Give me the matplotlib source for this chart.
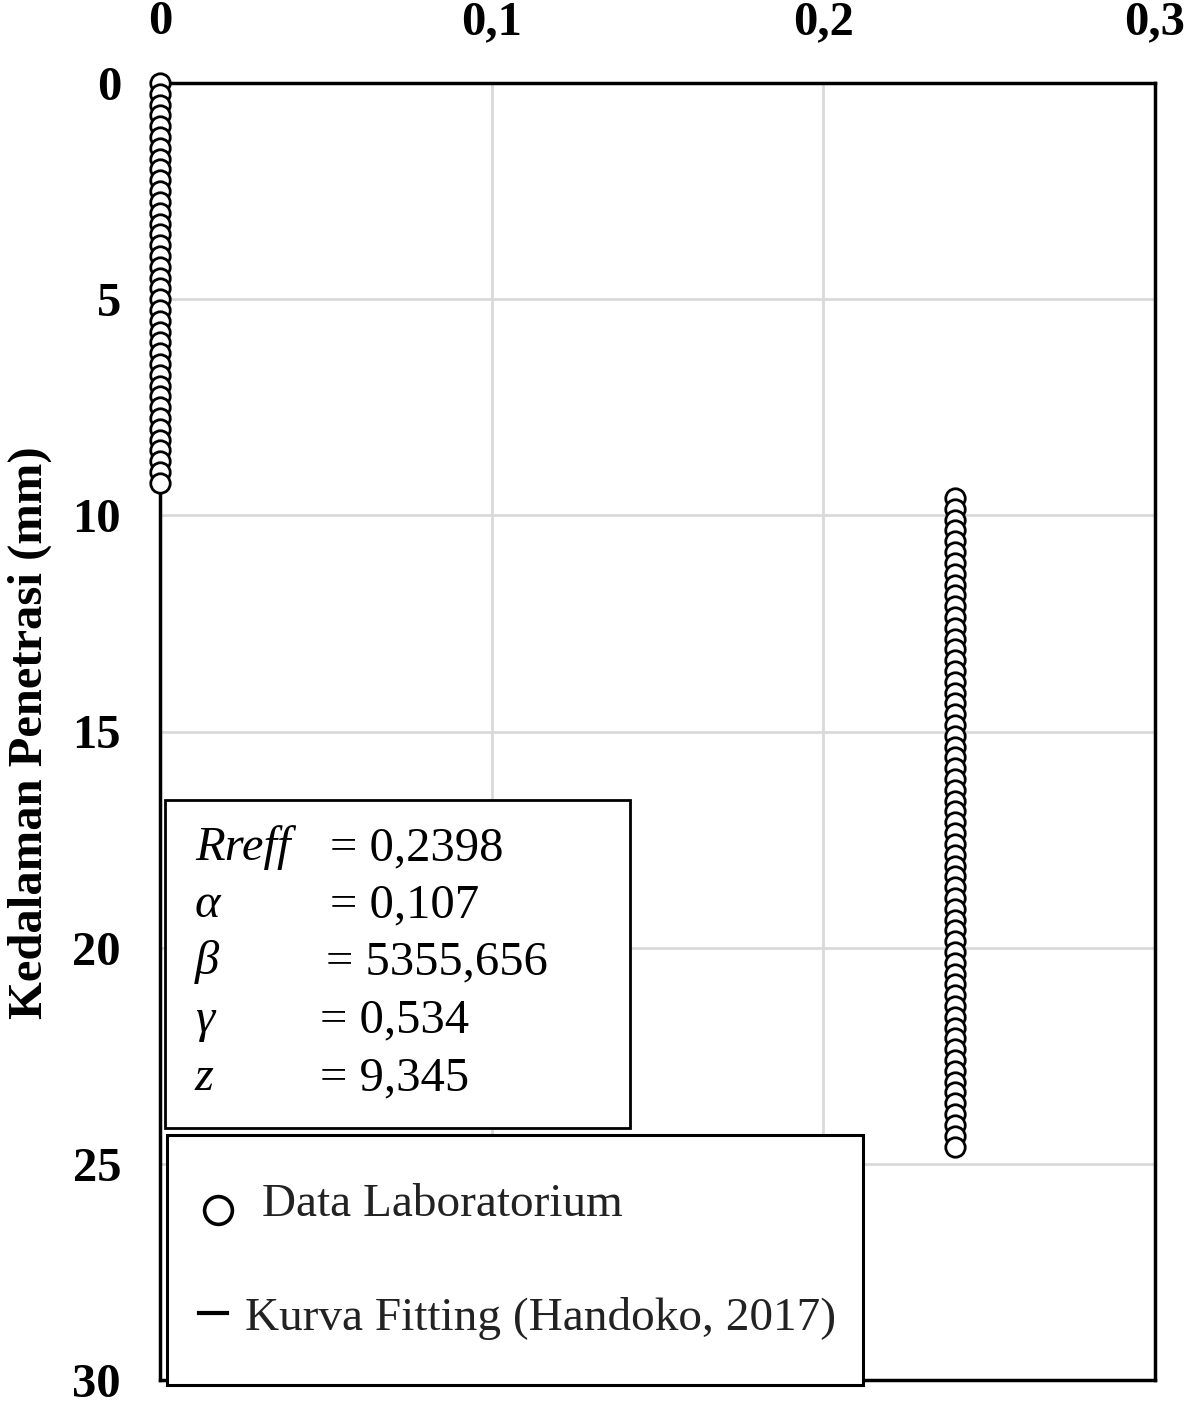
import matplotlib
matplotlib.use("Agg")
import matplotlib.pyplot as plt
from matplotlib.lines import Line2D
from matplotlib.patches import Rectangle

plt.rcParams["font.family"] = ["Liberation Serif", "DejaVu Serif"]

# ---------- data ----------
x_ticks = [0.0, 0.1, 0.2, 0.3]
x_ticklabels = ["0", "0,1", "0,2", "0,3"]
y_ticks = [0, 5, 10, 15, 20, 25, 30]

# data laboratorium, upper part (x = 0)
depth_upper = [0.0, 0.25, 0.5, 0.75, 1.0, 1.25, 1.5, 1.75, 2.0, 2.25,
               2.5, 2.75, 3.0, 3.25, 3.5, 3.75, 4.0, 4.25, 4.5, 4.75,
               5.0, 5.25, 5.5, 5.75, 6.0, 6.25, 6.5, 6.75, 7.0, 7.25,
               7.5, 7.75, 8.0, 8.25, 8.5, 8.75, 9.0, 9.25]
value_upper = 0.0

# data laboratorium, lower part (x = Rreff)
depth_lower = [9.6, 9.85, 10.1, 10.35, 10.6, 10.85, 11.1, 11.35, 11.6, 11.85,
               12.1, 12.35, 12.6, 12.85, 13.1, 13.35, 13.6, 13.85, 14.1, 14.35,
               14.6, 14.85, 15.1, 15.35, 15.6, 15.85, 16.1, 16.35, 16.6, 16.85,
               17.1, 17.35, 17.6, 17.85, 18.1, 18.35, 18.6, 18.85, 19.1, 19.35,
               19.6, 19.85, 20.1, 20.35, 20.6, 20.85, 21.1, 21.35, 21.6, 21.85,
               22.1, 22.35, 22.6, 22.85, 23.1, 23.35, 23.6, 23.85, 24.1, 24.35,
               24.6]
value_lower = 0.2398

param_names = ["Rreff", "α", "β", "γ", "z"]
param_values = ["= 0,2398", "= 0,107", "= 5355,656", "= 0,534", "= 9,345"]

# ---------- figure ----------
W, H = 1204, 1401
fig = plt.figure(figsize=(W / 100, H / 100), dpi=100)
ax = fig.add_axes([160 / W, 1 - 1380 / H, (1155 - 160) / W, (1380 - 83) / H])

mk = dict(marker="o", markersize=14, markerfacecolor="white",
          markeredgecolor="black", markeredgewidth=2.0, linestyle="none",
          clip_on=False, zorder=5)
ax.plot([value_upper] * len(depth_upper), depth_upper, **mk)
ax.plot([value_lower] * len(depth_lower), depth_lower, **mk)

ax.set_xlim(0, 0.3)
ax.set_ylim(30, 0)
ax.xaxis.tick_top()
ax.set_xticks(x_ticks)
ax.set_xticklabels(x_ticklabels)
ax.set_yticks(y_ticks)
ax.tick_params(axis="both", length=0, labelsize=35)
ax.tick_params(axis="x", pad=28)
ax.tick_params(axis="y", pad=28)
for lab in ax.get_xticklabels() + ax.get_yticklabels():
    lab.set_fontweight("bold")
ax.grid(True, color="#d9d9d9", linewidth=2)
ax.set_axisbelow(True)
for sp in ax.spines.values():
    sp.set_linewidth(2.5)
    sp.set_color("black")

fig.text(30 / W, 1 - 733 / H, "Kedalaman Penetrasi (mm)", rotation=90,
         ha="center", va="center", fontsize=35, fontweight="bold")

# ---------- parameter box ----------
fig.patches.append(Rectangle((165 / W, 1 - 1128 / H), (630 - 165) / W, (1128 - 800) / H,
                             transform=fig.transFigure, facecolor="white",
                             edgecolor="black", linewidth=2, zorder=6))
line_y = [848, 905, 962, 1020, 1078]
eq_x = [330, 330, 326, 320, 320]
for name, val, yy, ex in zip(param_names, param_values, line_y, eq_x):
    fig.text(195 / W, 1 - yy / H, name, fontsize=35, fontstyle="italic",
             ha="left", va="center", zorder=7)
    fig.text(ex / W, 1 - yy / H, val, fontsize=35, ha="left", va="center", zorder=7)

# ---------- legend ----------
fig.patches.append(Rectangle((167 / W, 1 - 1385 / H), (863 - 167) / W, (1385 - 1135) / H,
                             transform=fig.transFigure, facecolor="white",
                             edgecolor="black", linewidth=2.2, zorder=6))
fig.lines.append(Line2D([218 / W], [1 - 1210 / H], transform=fig.transFigure,
                        marker="o", markersize=20, markerfacecolor="white",
                        markeredgecolor="black", markeredgewidth=2.6, zorder=7))
fig.lines.append(Line2D([199 / W, 227 / W], [1 - 1313 / H, 1 - 1313 / H],
                        transform=fig.transFigure, color="black", linewidth=3, zorder=7))
fig.text(262 / W, 1 - 1205 / H, "Data Laboratorium", fontsize=34, color="#222222",
         ha="left", va="center", zorder=7)
fig.text(245 / W, 1 - 1318 / H, "Kurva Fitting (Handoko, 2017)", fontsize=34,
         color="#222222", ha="left", va="center", zorder=7)

fig.savefig("out.png", dpi=100)
